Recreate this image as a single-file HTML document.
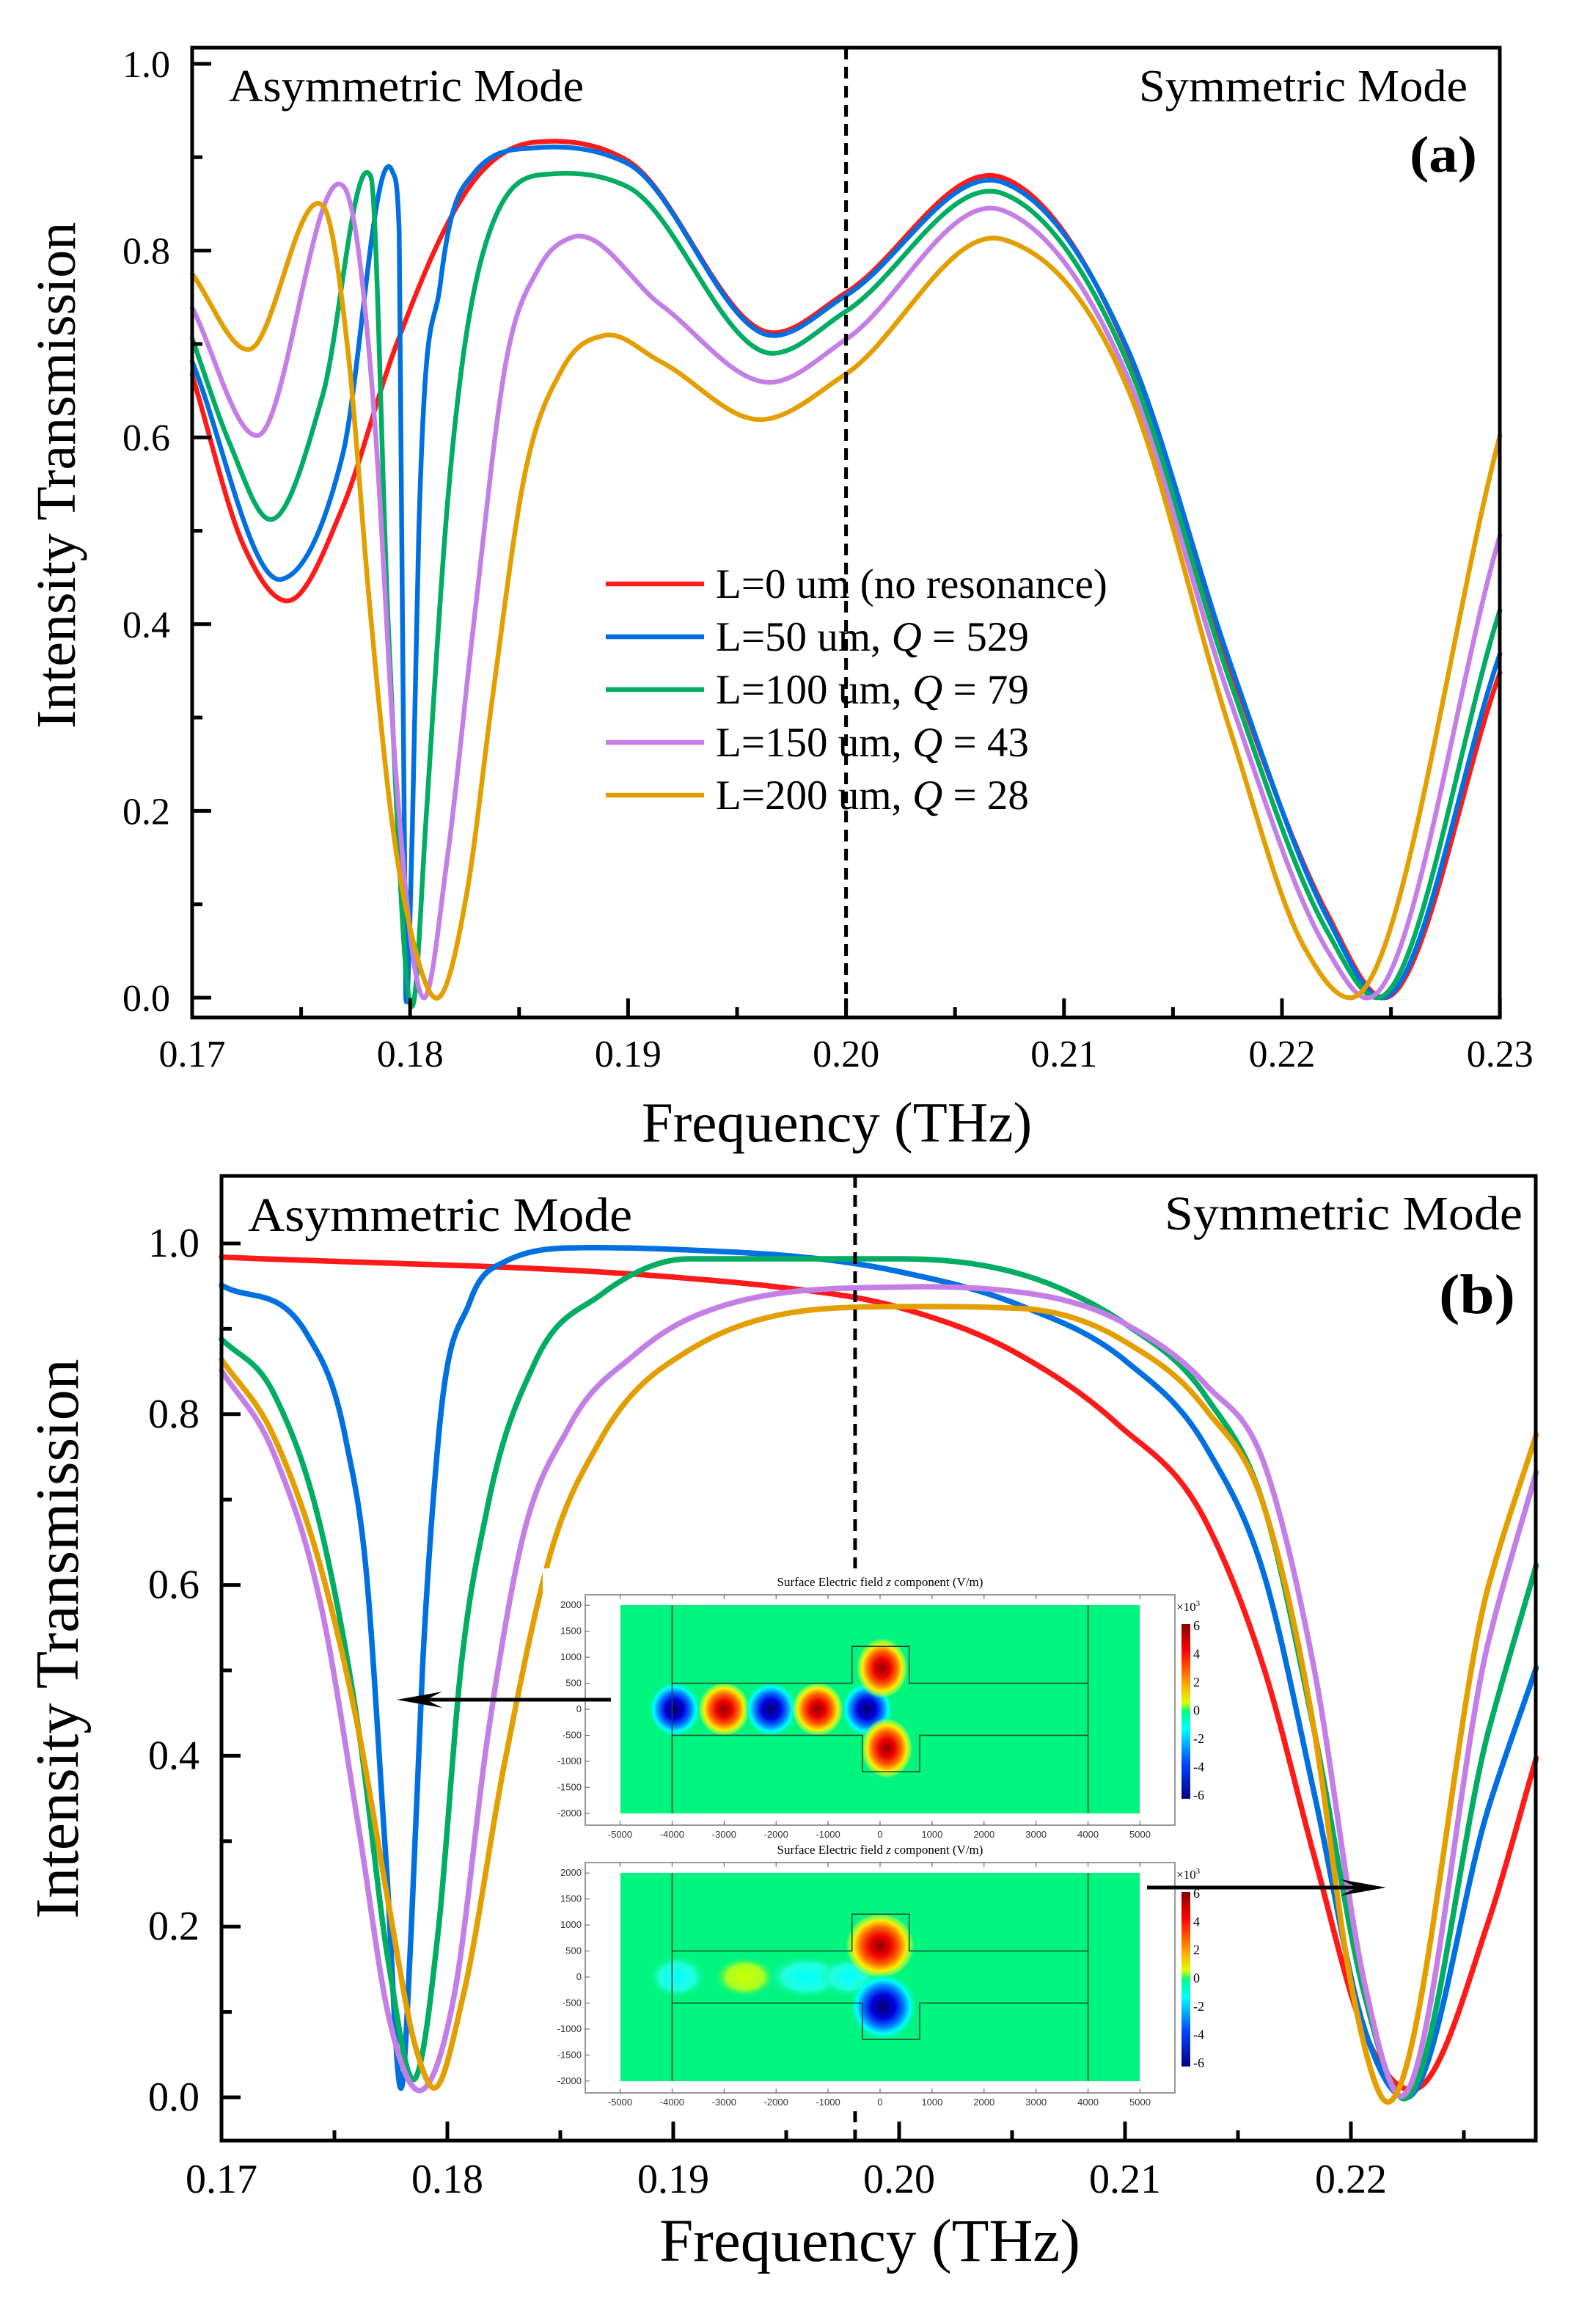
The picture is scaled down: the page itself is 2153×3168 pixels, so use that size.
<!DOCTYPE html>
<html><head><meta charset="utf-8"><style>
html,body{margin:0;padding:0;background:#fff}
svg{display:block}
text{font-family:"Liberation Serif",serif;fill:#000}
.sm{font-family:"Liberation Sans",sans-serif;font-size:13px;fill:#333}
</style></head><body>
<svg id="fig" width="2153" height="3168" viewBox="0 0 2153 3168" xmlns="http://www.w3.org/2000/svg">
<defs>
<radialGradient id="gRed"><stop offset="0" stop-color="#900000"/><stop offset="0.3" stop-color="#ee0000"/><stop offset="0.55" stop-color="#ff6600"/><stop offset="0.75" stop-color="#ffee00"/><stop offset="0.9" stop-color="#aaff44" stop-opacity="0.6"/><stop offset="1" stop-color="#00f080" stop-opacity="0"/></radialGradient>
<radialGradient id="gBlue"><stop offset="0" stop-color="#00006a"/><stop offset="0.35" stop-color="#0000dd"/><stop offset="0.6" stop-color="#0077ff"/><stop offset="0.8" stop-color="#00ffff"/><stop offset="1" stop-color="#00f0a0" stop-opacity="0"/></radialGradient>
<radialGradient id="gYel"><stop offset="0" stop-color="#ccff00"/><stop offset="0.6" stop-color="#aaff22"/><stop offset="1" stop-color="#00f080" stop-opacity="0"/></radialGradient>
<radialGradient id="gCyan"><stop offset="0" stop-color="#00ffff"/><stop offset="0.6" stop-color="#22ffdd"/><stop offset="1" stop-color="#00f080" stop-opacity="0"/></radialGradient>
<linearGradient id="cbar" x1="0" y1="0" x2="0" y2="1"><stop offset="0" stop-color="#880000"/><stop offset="0.15" stop-color="#ff0000"/><stop offset="0.35" stop-color="#ffaa00"/><stop offset="0.45" stop-color="#ddff00"/><stop offset="0.5" stop-color="#00ff80"/><stop offset="0.6" stop-color="#00ffff"/><stop offset="0.8" stop-color="#0044ff"/><stop offset="1" stop-color="#000080"/></linearGradient>
</defs>
<g id="panelA"></g>
<g id="panelB"></g>
</svg>
<script>
// ===== Panel (a) data =====
const aTicksX = [0.17,0.18,0.19,0.20,0.21,0.22,0.23];
const aTickLabelsX = ["0.17","0.18","0.19","0.20","0.21","0.22","0.23"];
const aTicksY = [0.0,0.2,0.4,0.6,0.8,1.0];
const aTickLabelsY = ["0.0","0.2","0.4","0.6","0.8","1.0"];
const aRedF = [0.17,0.1724,0.1744,0.1769,0.1793,0.1829,0.1857,0.19,0.1966,0.2,0.2072,0.213,0.2176,0.2221,0.2246,0.23];
const aRedT = [0.667,0.482,0.425,0.525,0.695,0.874,0.916,0.896,0.712,0.755,0.878,0.688,0.355,0.089,0.0,0.348];
const aBlueF = [0.17,0.1741,0.1769,0.1792,0.1795,0.1798,0.1801,0.1804,0.1814,0.1829,0.1857,0.19,0.1966,0.2,0.2072,0.213,0.2176,0.2221,0.2245,0.23];
const aBlueT = [0.681,0.448,0.581,0.884,0.82,0.0,0.18,0.50,0.767,0.882,0.910,0.893,0.709,0.752,0.873,0.690,0.360,0.085,0.0,0.368];
const aGreenF = [0.17,0.1717,0.1736,0.176,0.1782,0.179,0.1802,0.1807,0.1817,0.1834,0.1864,0.19,0.1966,0.2,0.2072,0.213,0.2176,0.2221,0.2243,0.23];
const aGreenT = [0.706,0.595,0.512,0.646,0.879,0.397,0.0,0.18,0.525,0.802,0.882,0.868,0.690,0.735,0.861,0.675,0.340,0.070,0.0,0.415];
const aPurpleF = [0.17,0.173,0.177,0.1784,0.1793,0.1806,0.1817,0.1829,0.1844,0.1859,0.1874,0.1915,0.1966,0.2,0.2072,0.213,0.2176,0.2221,0.2238,0.23];
const aPurpleT = [0.739,0.602,0.867,0.61,0.255,0.0,0.148,0.397,0.681,0.781,0.814,0.742,0.659,0.705,0.843,0.660,0.320,0.050,0.0,0.495];
const aOrangeF = [0.17,0.1726,0.176,0.1772,0.1781,0.1792,0.1802,0.1813,0.1826,0.1838,0.1852,0.187,0.1889,0.1915,0.1961,0.2,0.2072,0.213,0.2176,0.221,0.2232,0.23];
const aOrangeT = [0.775,0.694,0.848,0.681,0.432,0.183,0.055,0.0,0.112,0.325,0.553,0.674,0.709,0.681,0.619,0.668,0.812,0.648,0.288,0.055,0.0,0.602];
const aLegend = ["L=0 um (no resonance)","L=50 um, |Q| = 529","L=100 um, |Q| = 79","L=150 um, |Q| = 43","L=200 um, |Q| = 28"];

// ===== Panel (b) data =====
const bTicksX = [0.17,0.18,0.19,0.20,0.21,0.22];
const bTickLabelsX = ["0.17","0.18","0.19","0.20","0.21","0.22"];
const bTicksY = [0.0,0.2,0.4,0.6,0.8,1.0];
const bTickLabelsY = ["0.0","0.2","0.4","0.6","0.8","1.0"];
const bRedF = [0.17,0.1907,0.1943,0.2,0.2053,0.2096,0.2136,0.2162,0.2184,0.2206,0.2229,0.2261,0.2282];
const bRedT = [0.984,0.959,0.950,0.925,0.870,0.790,0.673,0.498,0.280,0.076,0.010,0.207,0.397];
const bBlueF = [0.17,0.1738,0.1755,0.1764,0.1773,0.178,0.1784,0.1789,0.1796,0.181,0.1825,0.1861,0.19,0.2,0.2053,0.21,0.2136,0.2162,0.2184,0.2206,0.2225,0.2261,0.2282];
const bBlueT = [0.951,0.893,0.771,0.618,0.272,0.015,0.196,0.503,0.771,0.932,0.978,0.995,0.993,0.967,0.928,0.863,0.761,0.608,0.353,0.080,0.0,0.340,0.503];
const bGreenF = [0.17,0.1723,0.1745,0.1761,0.1774,0.1786,0.1796,0.1806,0.1818,0.1839,0.1868,0.1907,0.2,0.2075,0.21,0.2136,0.2162,0.2184,0.2206,0.2222,0.2261,0.2282];
const bGreenT = [0.888,0.825,0.655,0.425,0.157,0.023,0.196,0.503,0.694,0.862,0.940,0.982,0.982,0.943,0.906,0.820,0.688,0.426,0.120,0.0,0.430,0.623];
const bPurpleF = [0.17,0.1723,0.1745,0.1761,0.1774,0.1788,0.1803,0.1818,0.1832,0.1854,0.1883,0.1907,0.2,0.2053,0.21,0.2136,0.2162,0.2184,0.2206,0.222,0.2261,0.2282];
const bPurpleT = [0.851,0.755,0.564,0.311,0.095,0.008,0.119,0.425,0.640,0.786,0.870,0.912,0.949,0.943,0.906,0.834,0.739,0.498,0.134,0.005,0.535,0.732];
const bOrangeF = [0.17,0.1723,0.1745,0.1761,0.1774,0.1786,0.1794,0.1807,0.1825,0.1846,0.1868,0.1907,0.2,0.2053,0.21,0.2136,0.2162,0.2184,0.22,0.2213,0.2261,0.2282];
const bOrangeT = [0.864,0.775,0.610,0.425,0.226,0.058,0.011,0.119,0.387,0.640,0.771,0.875,0.926,0.924,0.885,0.805,0.688,0.426,0.134,0.003,0.600,0.776];

const NS = "http://www.w3.org/2000/svg";
const COLORS = ["#ff1a1a","#0070e0","#00ad62","#c47fe6","#e39e00"];

function mk(tag, attrs, parent){
  const e = document.createElementNS(NS, tag);
  for (const k in attrs) e.setAttribute(k, attrs[k]);
  parent.appendChild(e);
  return e;
}
function smoothPath(xs, ys){
  const n = xs.length, d=[], h=[], m=[];
  for(let i=0;i<n-1;i++){ h.push(xs[i+1]-xs[i]); d.push((ys[i+1]-ys[i])/h[i]); }
  m[0]=d[0]; m[n-1]=d[n-2];
  for(let i=1;i<n-1;i++){
    let t = (h[i]*d[i-1] + h[i-1]*d[i])/(h[i-1]+h[i]);
    const lim = 3*Math.min(Math.abs(d[i-1]),Math.abs(d[i]));
    if(d[i-1]*d[i]>0){ if(Math.abs(t)>lim) t = Math.sign(t)*lim; }
    else { const l2 = 0.5*Math.min(Math.abs(d[i-1]),Math.abs(d[i])); if(Math.abs(t)>l2) t=Math.sign(t)*l2; }
    m[i]=t;
  }
  let p = "M"+xs[0].toFixed(1)+","+ys[0].toFixed(1);
  for(let i=0;i<n-1;i++){
    const k=h[i]/3;
    p += " C"+(xs[i]+k).toFixed(1)+","+(ys[i]+m[i]*k).toFixed(1)+" "+(xs[i+1]-k).toFixed(1)+","+(ys[i+1]-m[i+1]*k).toFixed(1)+" "+xs[i+1].toFixed(1)+","+ys[i+1].toFixed(1);
  }
  return p;
}

function drawPanel(g, cfg){
  const X = f => cfg.x0 + (f-0.17)*cfg.pxPer;
  const Y = t => cfg.y0 - t*cfg.pyPer;
  cfg.series.forEach((s,i)=>{
    const p = mk("path",{d:smoothPath(s.f.map(X), s.t.map(Y)),fill:"none",stroke:COLORS[i],"stroke-width":cfg.lw,"stroke-linejoin":"round","stroke-linecap":"round"},g);
    
    
  });
  const dl = mk("line",{x1:X(cfg.dash),x2:X(cfg.dash),y1:cfg.top,y2:cfg.bottom,stroke:"#000","stroke-width":5,"stroke-dasharray":"16,10"},g);
  
  
  if(cfg.pre) cfg.pre(g);
  const fr = mk("rect",{x:cfg.x0,y:cfg.top,width:cfg.right-cfg.x0,height:cfg.bottom-cfg.top,fill:"none",stroke:"#000","stroke-width":5},g);
  
  
  for(let v=0.17; v<=cfg.xmax+1e-9; v+=0.005){
    const major = Math.abs(Math.round(v*100)-v*100)<1e-6;
    mk("line",{x1:X(v),x2:X(v),y1:cfg.bottom,y2:cfg.bottom-(major?26:14),stroke:"#000","stroke-width":5},g);
  }
  cfg.ticksX.forEach((v,i)=>{
    const t = mk("text",{x:X(v),y:cfg.xlabY,"text-anchor":"middle","font-size":cfg.tfs},g);
    t.textContent = cfg.labelsX[i];
    
    
  });
  for(let k=0;k<=10;k++){
    const v=k/10, major=(k%2===0);
    mk("line",{x1:cfg.x0,x2:cfg.x0+(major?26:14),y1:Y(v),y2:Y(v),stroke:"#000","stroke-width":5},g);
  }
  cfg.ticksY.forEach((v,i)=>{
    const t = mk("text",{x:cfg.ylabX,y:Y(v)+18,"text-anchor":"end","font-size":cfg.tfs},g);
    t.textContent = cfg.labelsY[i];
    
    
  });
}

const gA = document.getElementById("panelA");
drawPanel(gA,{x0:262,pxPer:29720,y0:1360,pyPer:1273,top:65,bottom:1387,right:2045,xmax:0.23,lw:6.5,dash:0.2,
  ticksX:aTicksX,labelsX:aTickLabelsX,ticksY:aTicksY,labelsY:aTickLabelsY,xlabY:1454,ylabX:232,tfs:52,
  series:[{name:"L0",f:aRedF,t:aRedT},{name:"L50",f:aBlueF,t:aBlueT},{name:"L100",f:aGreenF,t:aGreenT},{name:"L150",f:aPurpleF,t:aPurpleT},{name:"L200",f:aOrangeF,t:aOrangeT}]});

aLegend.forEach((lab,i)=>{
  const y = 796 + i*72;
  const ln = mk("line",{x1:826,x2:960,y1:y,y2:y,stroke:COLORS[i],"stroke-width":6.5},gA);
  
  
  const t = mk("text",{x:976,y:y+19,"font-size":57},gA);
  
  
  lab.split("|").forEach((p,j)=>{
    const ts = mk("tspan",{},t);
    if(j===1) ts.setAttribute("font-style","italic");
    ts.textContent = p;
  });
});

const gB = document.getElementById("panelB");
drawPanel(gB,{x0:302,pxPer:30800,y0:2859,pyPer:1164,top:1603,bottom:2918,right:2094,xmax:0.228,lw:7.5,dash:0.19805,
  ticksX:bTicksX,labelsX:bTickLabelsX,ticksY:bTicksY,labelsY:bTickLabelsY,xlabY:2989,ylabX:272,tfs:56,
  series:[{name:"L0",f:bRedF,t:bRedT},{name:"L50",f:bBlueF,t:bBlueT},{name:"L100",f:bGreenF,t:bGreenT},{name:"L150",f:bPurpleF,t:bPurpleT},{name:"L200",f:bOrangeF,t:bOrangeT}],
  pre:function(g){
    const w = mk("rect",{x:740,y:2138,width:905,height:740,fill:"#fff"},g);
    
    
  }});

function inset(g, top, mode){
  const gi = mk("g",{},g);
  
  
  const px0 = 846, px1 = 1554, ppu = 0.0709;
  const pt = top+14, pb = pt+284, cy = (pt+pb)/2;
  const UX = u => 1200 + u*ppu, UY = u => cy - u*0.0709;
  const tt = mk("text",{x:1200,y:top-12,"text-anchor":"middle","font-size":17},gi);
  tt.innerHTML = 'Surface Electric field <tspan font-style="italic">z</tspan> component (V/m)';
  mk("rect",{x:798,y:top,width:804,height:314,fill:"none",stroke:"#777","stroke-width":1.5},gi);
  mk("rect",{x:px0,y:pt,width:px1-px0,height:pb-pt,fill:"#00f57e"},gi);
  const cp = mk("clipPath",{id:"clip"+mode},gi);
  mk("rect",{x:px0,y:pt,width:px1-px0,height:pb-pt},cp);
  const bl = mk("g",{"clip-path":"url(#clip"+mode+")"},gi);
  if(mode==="asym"){
    [[-3950,0,"gBlue"],[-3000,0,"gRed"],[-2100,0,"gBlue"],[-1200,0,"gRed"],[-250,0,"gBlue"],[40,790,"gRed"],[130,-750,"gRed"]].forEach(b=>{
      mk("ellipse",{cx:UX(b[0]),cy:UY(b[1]),rx:36,ry:b[1]===0?38:42,fill:"url(#"+b[2]+")"},bl);
    });
  } else {
    [[-3900,0,"gCyan",40,30],[-2600,0,"gYel",42,28],[-1400,0,"gCyan",55,30],[-600,0,"gCyan",40,28],[0,600,"gRed",48,46],[60,-570,"gBlue",46,46]].forEach(b=>{
      mk("ellipse",{cx:UX(b[0]),cy:UY(b[1]),rx:b[3],ry:b[4],fill:"url(#"+b[2]+")"},bl);
    });
  }
  const ln = {stroke:"#224433","stroke-width":1.5,fill:"none"};
  mk("line",Object.assign({x1:UX(-4000),x2:UX(-4000),y1:pt,y2:pb},ln),gi);
  mk("line",Object.assign({x1:UX(4000),x2:UX(4000),y1:pt,y2:pb},ln),gi);
  mk("path",Object.assign({d:`M${UX(-4000)},${UY(500)} H${UX(-540)} V${UY(1210)} H${UX(560)} V${UY(500)} H${UX(4000)}`},ln),gi);
  mk("path",Object.assign({d:`M${UX(-4000)},${UY(-500)} H${UX(-340)} V${UY(-1200)} H${UX(760)} V${UY(-500)} H${UX(4000)}`},ln),gi);
  for(let u=-5000;u<=5000;u+=1000){
    mk("line",{x1:UX(u),x2:UX(u),y1:top+314,y2:top+308,stroke:"#555"},gi);
    mk("line",{x1:UX(u),x2:UX(u),y1:top,y2:top+6,stroke:"#555"},gi);
    const t = mk("text",{x:UX(u),y:top+331,"text-anchor":"middle",class:"sm"},gi); t.textContent = String(u);
  }
  for(let u=-2000;u<=2000;u+=500){
    mk("line",{x1:798,x2:804,y1:UY(u),y2:UY(u),stroke:"#555"},gi);
    const t = mk("text",{x:793,y:UY(u)+4,"text-anchor":"end",class:"sm"},gi); t.textContent = String(u);
  }
  mk("rect",{x:1611,y:top+40,width:12,height:238,fill:"url(#cbar)"},gi);
  const ex = mk("text",{x:1604,y:top+22,"font-size":17},gi); ex.innerHTML = "×10<tspan font-size='11' dy='-7'>3</tspan>";
  ["6","4","2","0","-2","-4","-6"].forEach((s,i)=>{
    const t = mk("text",{x:1627,y:top+48+i*38.5,"font-size":18},gi); t.textContent = s;
  });
}
inset(gB, 2174, "asym");
inset(gB, 2539, "sym");

function arrow(g, x1, x2, y, name){
  const a = mk("g",{},g);
  
  
  mk("line",{x1:x1,x2:x2-(x2>x1?40:-40),y1:y,y2:y,stroke:"#000","stroke-width":5},a);
  const s = x2>x1?-1:1;
  mk("path",{d:`M${x2},${y} L${x2+s*62},${y-11} L${x2+s*40},${y} L${x2+s*62},${y+11} Z`,fill:"#000"},a);
}
arrow(gB, 833, 541, 2317, "arrow-to-asymmetric-dip");
arrow(gB, 1564, 1890, 2573, "arrow-to-symmetric-dip");
</script>

<svg style="position:absolute;left:0;top:0" width="2153" height="3168" xmlns="http://www.w3.org/2000/svg">
<text x="312" y="138" font-size="62" textLength="484" lengthAdjust="spacingAndGlyphs">Asymmetric Mode</text>
<text x="1553" y="138" font-size="62" textLength="448" lengthAdjust="spacingAndGlyphs">Symmetric Mode</text>
<text x="1922" y="234" font-size="70" font-weight="bold" textLength="92" lengthAdjust="spacingAndGlyphs">(a)</text>
<text x="1141" y="1556" font-size="77" text-anchor="middle">Frequency (THz)</text>
<text transform="translate(102,648) rotate(-90)" font-size="76" text-anchor="middle">Intensity Transmission</text>
<text x="338" y="1678" font-size="66" textLength="524" lengthAdjust="spacingAndGlyphs">Asymmetric Mode</text>
<text x="1588" y="1676" font-size="66" textLength="488" lengthAdjust="spacingAndGlyphs">Symmetric Mode</text>
<text x="1962" y="1790" font-size="76" font-weight="bold" textLength="104" lengthAdjust="spacingAndGlyphs">(b)</text>
<text x="1186" y="3082" font-size="83" text-anchor="middle">Frequency (THz)</text>
<text transform="translate(106,2234) rotate(-90)" font-size="84" text-anchor="middle">Intensity Transmission</text>
</svg>
</body></html>
